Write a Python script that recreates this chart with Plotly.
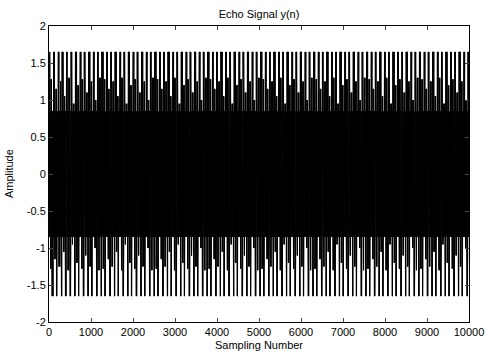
import numpy as np
import plotly.graph_objects as go

# ---- data ----
n_samples = 10000
# one cycle (~105 samples, ~95 cycles in the record) as segments of fast
# oscillation: (upper level, lower level, number of samples)
seg_upper = [1.65, 0.85, 1.25, 0.85, 0.85]
seg_lower = [-0.85, -1.25, -0.85, -1.65, -0.85]
seg_len = [28, 22, 22, 23, 10]
# per-cycle height of the intermediate (+/-1.25) spikes, varies across the record
mid_peaks = [1.28, 1.15, 1.25, 1.05, 1.3, 0.95, 1.2, 1.28, 1.1, 1.25, 1.0, 1.3]
x_ticks = [0, 1000, 2000, 3000, 4000, 5000, 6000, 7000, 8000, 9000, 10000]
x_tick_text = ["0", "1000", "2000", "3000", "4000", "5000", "6000", "7000",
               "8000", "9000", "10000"]
y_ticks = [-2, -1.5, -1, -0.5, 0, 0.5, 1, 1.5, 2]
y_tick_text = ["-2", "-1.5", "-1", "-0.5", "0", "0.5", "1", "1.5", "2"]

# ---- build the sampled signal from the segments ----
y = []
cycle = 0
while len(y) < n_samples:
    mp = mid_peaks[cycle % len(mid_peaks)]
    for up, lo, ln in zip(seg_upper, seg_lower, seg_len):
        if up == 1.25:
            up = mp
        if lo == -1.25:
            lo = -mp
        for k in range(ln):
            y.append(up if k % 2 == 0 else lo)
    cycle += 1
y = np.array(y[:n_samples])
n = np.arange(n_samples)

fig = go.Figure()
fig.add_trace(go.Scatter(x=n, y=y, mode="lines",
                         line=dict(color="black", width=1),
                         showlegend=False, hoverinfo="skip"))

font = dict(family="Liberation Sans, Arial, sans-serif", size=11, color="black")
fig.update_layout(
    width=485, height=353,
    margin=dict(l=49, r=16, t=26, b=31, autoexpand=False),
    paper_bgcolor="white", plot_bgcolor="white",
    font=font,
    title=dict(text="Echo Signal y(n)", x=0.534, xanchor="center",
               y=0.96, yanchor="middle", font=dict(size=11)),
    xaxis=dict(range=[0, 10000], tickvals=x_ticks, ticktext=x_tick_text,
               ticks="inside", ticklen=4,
               showgrid=False, zeroline=False, showline=True, linecolor="black",
               linewidth=1, mirror="ticks", tickfont=font, automargin=False),
    yaxis=dict(range=[-2, 2], tickvals=y_ticks, ticktext=y_tick_text,
               ticks="inside", ticklen=4, showgrid=False, zeroline=False,
               showline=True, linecolor="black", linewidth=1, mirror="ticks",
               tickfont=font, automargin=False),
    annotations=[
        dict(text="Sampling Number", xref="paper", yref="paper", x=0.5, y=-0.078,
             xanchor="center", yanchor="middle", showarrow=False, font=font),
        dict(text="Amplitude", xref="paper", yref="paper", x=-0.095, y=0.5,
             xanchor="center", yanchor="middle", textangle=-90,
             showarrow=False, font=font),
    ],
)
fig.write_html(
    "out.html",
    config={"displayModeBar": False},
    post_script="document.body.style.margin='0';document.body.style.overflow='hidden';",
)
